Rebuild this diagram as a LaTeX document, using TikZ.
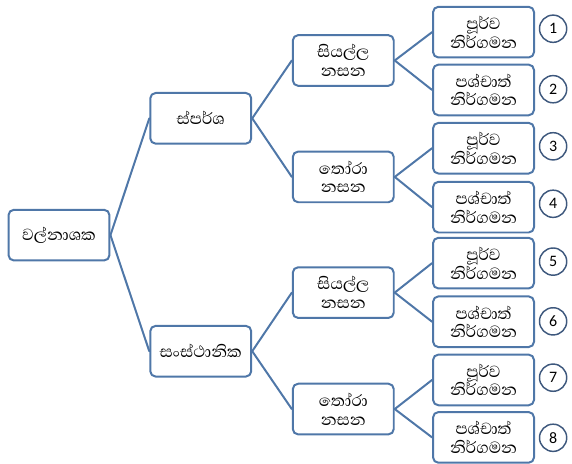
\documentclass[tikz,border=0pt]{standalone}
\usepackage{fontspec}
\usepackage{xcolor}
\usepackage{tikz}
\newfontfamily\sinhalafont[Script=Sinhala]{Abhaya Libre}
\newfontfamily\numfont{Carlito}
\definecolor{boxblue}{RGB}{79,119,168}
\definecolor{ringblue}{RGB}{62,88,125}
\tikzset{
  catbox/.style={draw=boxblue,line width=1.5pt,rounded corners=4pt,fill=white,
    minimum width=2.67cm,minimum height=1.34cm,align=center,
    font=\sinhalafont\fontsize{15.5}{14}\selectfont,inner sep=1pt},
  numring/.style={draw=ringblue,line width=1.1pt,circle,minimum size=0.72cm,inner sep=0pt,
    font=\numfont\fontsize{12}{13}\selectfont},
  branch/.style={draw=boxblue,line width=1.5pt}
}
\begin{document}
\begin{tikzpicture}[line cap=round,line join=round,x=1.0cm,y=1.0cm]
			\useasboundingbox (0.,0.) rectangle (15.13,12.25);
			% root and first split
			\node[catbox] (weed) at (1.56,6.03) {වල්නාශක};
			\node[catbox] (contact) at (5.31,9.12) {ස්පර්ශ};
			\node[catbox] (systemic) at (5.31,2.96) {සංස්ථානික};
			% second level
			\node[catbox] (allA) at (9.08,10.65) {සියල්ල\\නසන};
			\node[catbox] (selA) at (9.08,7.57) {තෝරා\\නසන};
			\node[catbox] (allB) at (9.08,4.51) {සියල්ල\\නසන};
			\node[catbox] (selB) at (9.08,1.43) {තෝරා\\නසන};
			% leaves
			\node[catbox] (preA) at (12.79,11.40) {පූර්ව\\නිර්ගමන};
			\node[catbox] (postA) at (12.79,9.87) {පශ්චාත්\\නිර්ගමන};
			\node[catbox] (preB) at (12.79,8.33) {පූර්ව\\නිර්ගමන};
			\node[catbox] (postB) at (12.79,6.77) {පශ්චාත්\\නිර්ගමන};
			\node[catbox] (preC) at (12.79,5.29) {පූර්ව\\නිර්ගමන};
			\node[catbox] (postC) at (12.79,3.74) {පශ්චාත්\\නිර්ගමන};
			\node[catbox] (preD) at (12.79,2.20) {පූර්ව\\නිර්ගමන};
			\node[catbox] (postD) at (12.79,0.68) {පශ්චාත්\\නිර්ගමන};
			% numbers
			\node[numring] (n1) at (14.63,11.49) {1};
			\node[numring] (n2) at (14.63,9.89) {2};
			\node[numring] (n3) at (14.63,8.38) {3};
			\node[numring] (n4) at (14.63,6.86) {4};
			\node[numring] (n5) at (14.63,5.33) {5};
			\node[numring] (n6) at (14.63,3.75) {6};
			\node[numring] (n7) at (14.63,2.26) {7};
			\node[numring] (n8) at (14.63,0.67) {8};
			% connectors
			\draw [branch] (weed.east) -- (contact.west);
			\draw [branch] (weed.east) -- (systemic.west);
			\draw [branch] (contact.east) -- (allA.west);
			\draw [branch] (contact.east) -- (selA.west);
			\draw [branch] (systemic.east) -- (allB.west);
			\draw [branch] (systemic.east) -- (selB.west);
			\draw [branch] (allA.east) -- (preA.west);
			\draw [branch] (allA.east) -- (postA.west);
			\draw [branch] (selA.east) -- (preB.west);
			\draw [branch] (selA.east) -- (postB.west);
			\draw [branch] (allB.east) -- (preC.west);
			\draw [branch] (allB.east) -- (postC.west);
			\draw [branch] (selB.east) -- (preD.west);
			\draw [branch] (selB.east) -- (postD.west);
			\end{tikzpicture}
\end{document}
